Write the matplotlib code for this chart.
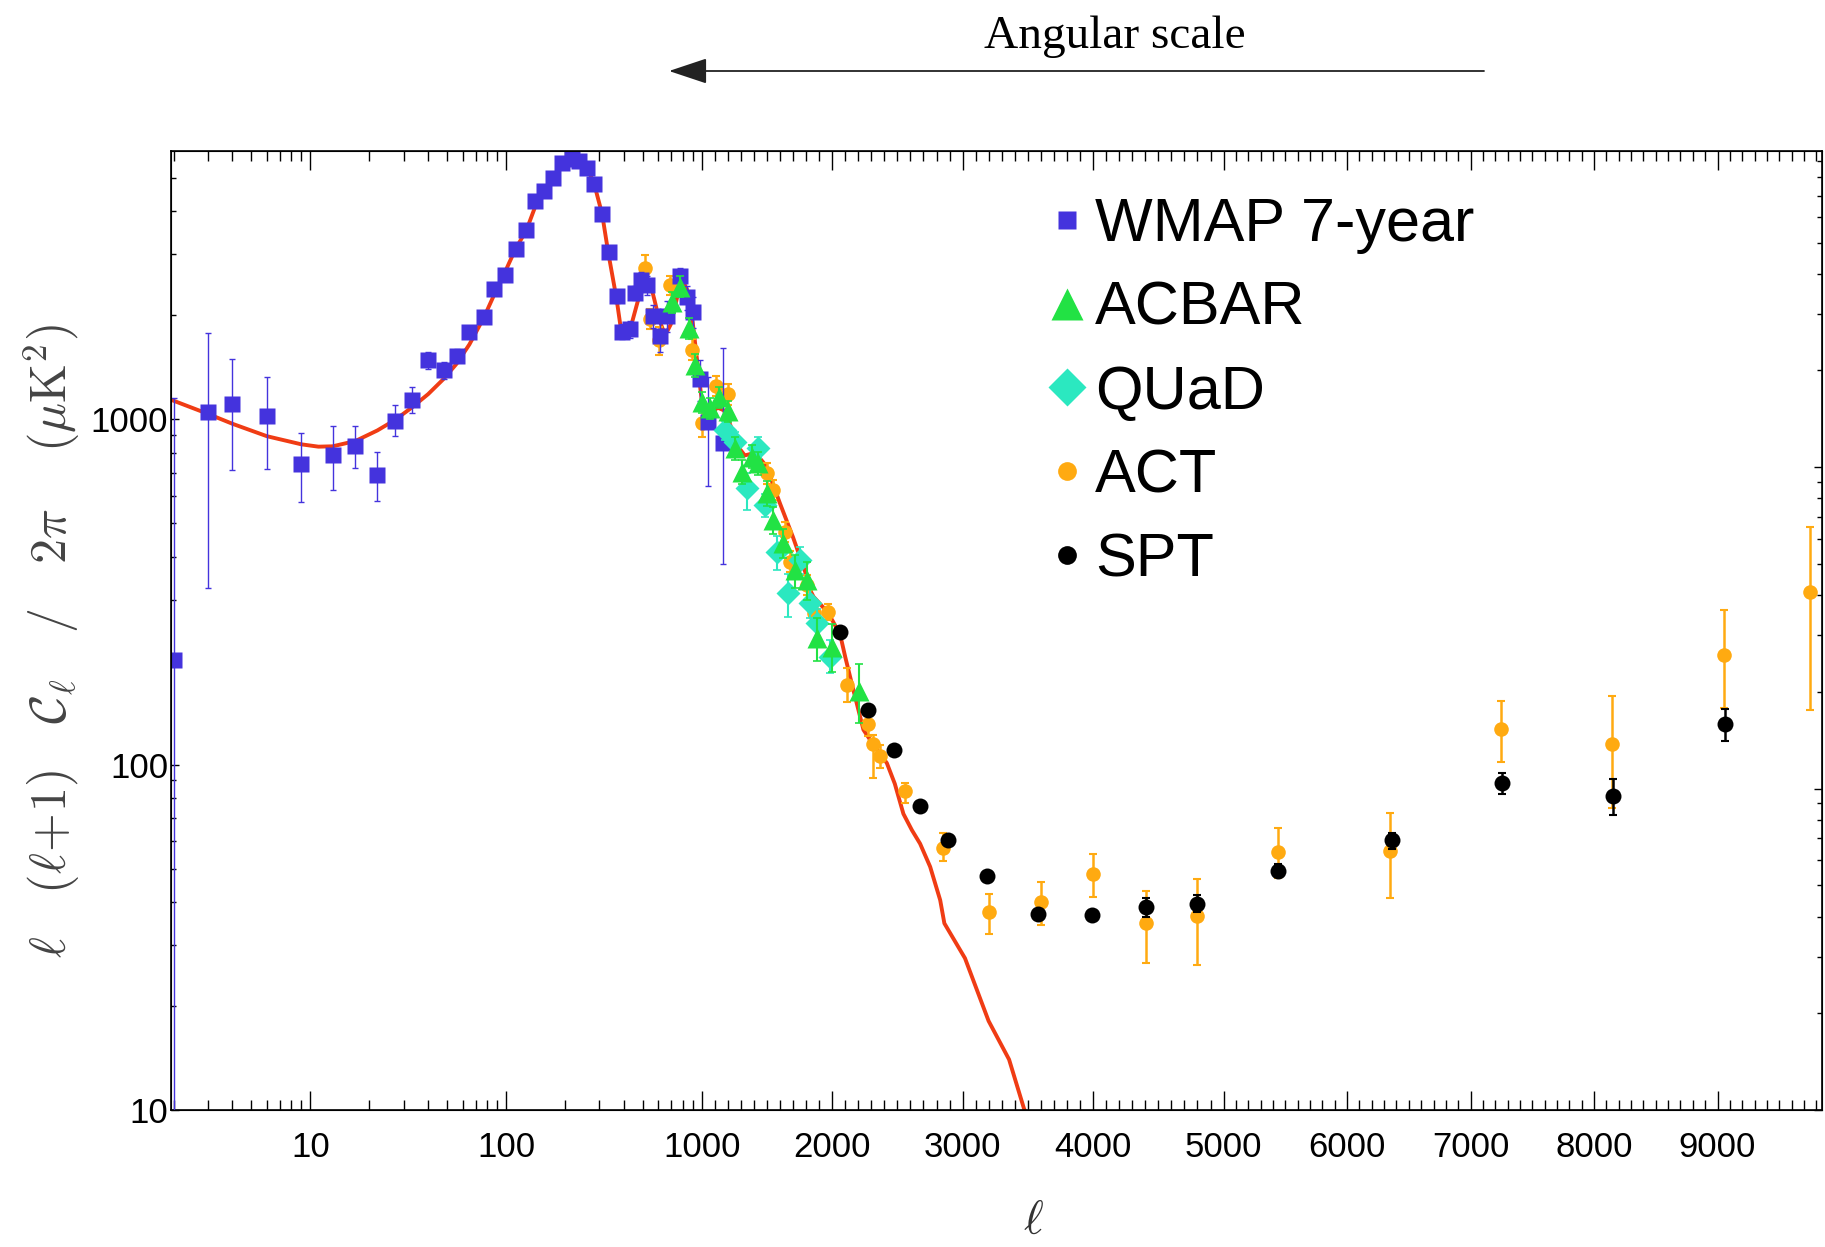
import numpy as np
import matplotlib
matplotlib.use('Agg')
import matplotlib.pyplot as plt
from matplotlib.lines import Line2D
from matplotlib.ticker import FixedLocator, FuncFormatter, LogLocator, NullFormatter

plt.rcParams['mathtext.fontset'] = 'cm'
plt.rcParams['font.family'] = ['Liberation Sans', 'DejaVu Sans']

################################################################
# data: multipole l and l(l+1)C_l/2pi in uK^2

## best-fit model curve
theory_ell = [2, 3, 4, 6, 9, 11, 13, 17, 22, 27, 33, 40, 48, 56, 65, 77, 87, 99, 112, 127,
              141, 156, 174, 193, 217, 237, 258, 282, 310, 333, 367, 385, 398, 415, 440, 470,
              500, 525, 548, 575, 605, 635, 665, 695, 725, 760, 790, 815, 840, 870, 900, 930,
              960, 985, 1000, 1030, 1070, 1120, 1170, 1220, 1270, 1330, 1390, 1440, 1490, 1525,
              1600, 1700, 1800, 1831, 1857, 1950, 2000, 2061, 2100, 2163, 2240, 2330, 2419, 2480,
              2546, 2611, 2674, 2751, 2828, 2860, 3018, 3199, 3356, 3470, 3530]
theory_dl = [1130, 1035, 969, 892, 845, 832, 834, 864, 927, 993, 1080, 1181, 1307, 1448, 1645, 1966,
             2291, 2671, 3114, 3517, 4121, 4565, 4990, 5383, 5700, 5680, 5383, 4800, 3917, 3032,
             2233, 1850, 1750, 1765, 1900, 2180, 2420, 2510, 2450, 2200, 1950, 1810, 1790, 1880,
             2080, 2330, 2450, 2460, 2380, 2170, 1900, 1620, 1390, 1220, 1140, 1050, 1030, 1080,
             1060, 960, 840, 785, 795, 775, 735, 681, 570, 455, 355, 320, 306, 280, 262, 238, 205,
             164, 126, 112, 101, 88, 72, 64.6, 59, 50.6, 40.5, 34.7, 27.5, 18.1, 14.0, 10.1, 9.0]

## WMAP 7-year
wmap_ell = [2, 3, 4, 6, 9, 13, 17, 22, 27, 33, 40, 48, 56, 65, 77, 87, 99, 112, 127, 141, 156, 174,
            193, 217, 237, 258, 282, 310, 334, 369, 391, 428, 457, 489, 528, 567, 614, 664, 776, 846,
            907, 975, 1052, 1160]
wmap_dl = [201, 1048, 1102, 1023, 740, 789, 837, 687, 986, 1132, 1478, 1384, 1525, 1790, 1977, 2383,
           2618, 3114, 3517, 4282, 4565, 4990, 5525, 5670, 5600, 5320, 4800, 3935, 3049, 2270, 1790,
           1820, 2321, 2525, 2443, 1987, 1738, 1987, 2592, 2250, 2046, 1303, 982, 850]
wmap_lo = [1, 324, 714, 719, 574, 625, 721, 581, 893, 1040, 1400, 1310, 1460, 1720, 1910, 2310, 2540,
           3030, 3430, 4190, 4470, 4890, 5420, 5560, 5490, 5210, 4690, 3830, 2950, 2170, 1700, 1720,
           2210, 2390, 2290, 1840, 1560, 1790, 2450, 2070, 1840, 1130, 640, 380]
wmap_hi = [1150, 1775, 1496, 1324, 914, 955, 955, 805, 1095, 1236, 1560, 1460, 1590, 1860, 2045, 2455,
           2700, 3200, 3600, 4370, 4660, 5090, 5630, 5780, 5710, 5430, 4910, 4040, 3150, 2370, 1880,
           1920, 2430, 2660, 2600, 2140, 1920, 2190, 2730, 2430, 2250, 1480, 1320, 1603]

## ACBAR
acbar_ell = [705, 776, 857, 926, 1000, 1065, 1135, 1200, 1257, 1308, 1385, 1435, 1500, 1550, 1627,
             1716, 1806, 1883, 1998, 2202]
acbar_dl = [2180, 2415, 1830, 1430, 1120, 1075, 1155, 1055, 822, 704, 778, 745, 610, 510, 437, 365,
            342, 232, 219, 163]
acbar_lo = [2030, 2250, 1700, 1320, 1040, 1000, 1075, 980, 760, 650, 720, 690, 560, 465, 395, 325,
            300, 200, 185, 132]
acbar_hi = [2340, 2590, 1960, 1540, 1200, 1150, 1240, 1130, 885, 760, 840, 805, 660, 555, 480, 405,
            385, 265, 255, 196]

## QUaD
quad_ell = [1180, 1257, 1346, 1430, 1487, 1576, 1665, 1755, 1831, 1883, 1985]
quad_dl = [929, 859, 630, 825, 563, 413, 313, 391, 293, 257, 205]
quad_lo = [870, 800, 546, 770, 520, 365, 268, 355, 265, 232, 184]
quad_hi = [990, 920, 700, 889, 605, 460, 355, 427, 322, 282, 230]

## ACT
act_ell = [514, 545, 605, 690, 891, 1000, 1110, 1200, 1500, 1550, 1640, 1678, 1806, 1857, 1968, 2113,
           2278, 2316, 2368, 2559, 2853, 3203, 3600, 4000, 4402, 4798, 5443, 6350, 7246, 8145, 9051, 9748]
act_dl = [2730, 1950, 1690, 2440, 1585, 975, 1248, 1180, 696, 623, 472, 387, 331, 274, 277, 170, 131,
          115, 106, 84, 57.5, 37.3, 40.1, 48.2, 34.8, 36.4, 56, 56.2, 127, 115, 208, 316]
act_lo = [2450, 1820, 1530, 2290, 1480, 889, 1170, 1100, 650, 585, 442, 362, 310, 256, 262, 152, 121,
          91.2, 98, 77.4, 52.4, 32.4, 34.3, 41.4, 26.7, 26.2, 47, 41.1, 102, 75, 146, 144]
act_hi = [2985, 2080, 1850, 2600, 1700, 1060, 1330, 1260, 745, 665, 505, 414, 354, 293, 292, 190, 142,
          122, 114, 88.6, 63.3, 42.2, 45.6, 55, 43.1, 46.7, 65.6, 72.4, 153, 158, 281, 488]

## SPT
spt_ell = [2061, 2278, 2475, 2674, 2891, 3190, 3580, 3992, 4402, 4793, 5443, 6363, 7252, 8152, 9057]
spt_dl = [242, 144, 110, 76, 60.4, 47.6, 36.9, 36.7, 38.6, 39.5, 49.3, 60.3, 88.5, 81.3, 131]
spt_lo = [236, 140, 107, 74, 58.8, 46.2, 35.8, 35.6, 36.2, 37.4, 47.2, 57.0, 82.4, 71.6, 117]
spt_hi = [248, 148, 113, 78, 62, 49, 38, 37.8, 41, 42, 51.5, 63.5, 94.7, 91, 145]

x_major = [10, 100, 1000, 2000, 3000, 4000, 5000, 6000, 7000, 8000, 9000]

################################################################
# hybrid axis: log up to l=1000, linear after (slightly different
# stretch below / above 5000, as in the original)

S1 = 0.6668e-3
S2 = 0.6311e-3
U5 = 3 + 4000 * S1


def fwd(l):
    l = np.asarray(l, dtype=float)
    lg = np.log10(np.where(l > 0, l, 1e-10))
    return np.where(l <= 1000, lg,
                    np.where(l <= 5000, 3 + (l - 1000) * S1, U5 + (l - 5000) * S2))


def inv(u):
    u = np.asarray(u, dtype=float)
    a = 10 ** np.minimum(u, 3)
    return np.where(u <= 3, a,
                    np.where(u <= U5, 1000 + (u - 3) / S1, 5000 + (u - U5) / S2))


def yerr(d, lo, hi):
    d = np.array(d)
    return [d - np.array(lo), np.array(hi) - d]


W, H = 1825, 1247
fig = plt.figure(figsize=(W / 100, H / 100), dpi=100)
ax = fig.add_axes([171 / W, 1 - 1110 / H, (1822 - 171) / W, (1110 - 151) / H])

ax.set_xscale('function', functions=(fwd, inv))
ax.set_yscale('log')

WMAP_C = '#4433DD'
ACBAR_C = '#22E244'
QUAD_C = '#2BE8C0'
ACT_C = '#FFAA11'
SPT_C = 'black'
RED = '#F03C14'

ax.plot(theory_ell, theory_dl, color=RED, lw=2.8, zorder=1.5, solid_joinstyle='round')

ax.errorbar(act_ell, act_dl, yerr=yerr(act_dl, act_lo, act_hi), fmt='o', color=ACT_C, ms=10.5,
            mec='none', elinewidth=1.8, capsize=3, capthick=1.5, zorder=2)
ax.errorbar(wmap_ell, wmap_dl, yerr=yerr(wmap_dl, wmap_lo, wmap_hi), fmt='s', color=WMAP_C, ms=11.5,
            mec='none', elinewidth=1.0, capsize=2.5, capthick=1.0, zorder=3)
ax.errorbar(quad_ell, quad_dl, yerr=yerr(quad_dl, quad_lo, quad_hi), fmt='D', color=QUAD_C, ms=12,
            mec='none', elinewidth=1.5, capsize=3, capthick=1.2, zorder=4)
ax.errorbar(acbar_ell, acbar_dl, yerr=yerr(acbar_dl, acbar_lo, acbar_hi), fmt='^', color=ACBAR_C,
            ms=14, mec='none', elinewidth=1.5, capsize=3, capthick=1.2, zorder=5)
ax.errorbar(spt_ell, spt_dl, yerr=yerr(spt_dl, spt_lo, spt_hi), fmt='o', color=SPT_C, ms=11.5,
            mec='none', elinewidth=1.8, capsize=3, capthick=1.5, zorder=6)

ax.set_xlim(1.94, 9846)
ax.set_ylim(10, 5970)

## ticks
x_minor = [m * 10 ** k for k in range(3) for m in range(2, 10) if m * 10 ** k >= 2]
x_minor += [l for l in range(1100, 10000, 100) if l % 1000]
ax.xaxis.set_major_locator(FixedLocator(x_major))
ax.xaxis.set_minor_locator(FixedLocator(x_minor))
ax.xaxis.set_major_formatter(FuncFormatter(lambda v, p: '%d' % round(v)))
ax.xaxis.set_minor_formatter(NullFormatter())
ax.yaxis.set_major_locator(LogLocator(base=10))
ax.yaxis.set_minor_locator(LogLocator(base=10, subs=np.arange(2, 10)))
ax.yaxis.set_major_formatter(FuncFormatter(lambda v, p: '%d' % round(v)))
ax.yaxis.set_minor_formatter(NullFormatter())

ax.tick_params(axis='x', which='both', direction='in', top=True, bottom=True, width=1.0,
               labelsize=25, pad=15)
ax.tick_params(axis='x', which='major', length=14)
ax.tick_params(axis='x', which='minor', length=7.5)
ax.tick_params(axis='y', which='both', direction='in', left=True, right=False, width=1.0,
               labelsize=25, pad=2)
ax.tick_params(axis='y', which='major', length=6)
ax.tick_params(axis='y', which='minor', length=3.5)
for s in ax.spines.values():
    s.set_linewidth(1.2)

# right-hand axis: ticks only, its own log stretch
twin = ax.twinx()
twin.set_yscale('log')
twin.set_ylim(1, 10 ** 2.984)
twin.yaxis.set_major_locator(LogLocator(base=10))
twin.yaxis.set_minor_locator(LogLocator(base=10, subs=np.arange(2, 10)))
twin.tick_params(axis='y', which='both', direction='in', labelright=False, width=1.0)
twin.tick_params(axis='y', which='major', length=6)
twin.tick_params(axis='y', which='minor', length=3.5)

## legend
handles = [
    Line2D([], [], ls='none', marker='s', color=WMAP_C, mec='none', ms=13.5),
    Line2D([], [], ls='none', marker='^', color=ACBAR_C, mec='none', ms=23),
    Line2D([], [], ls='none', marker='D', color=QUAD_C, mec='none', ms=19),
    Line2D([], [], ls='none', marker='o', color=ACT_C, mec='none', ms=13.5),
    Line2D([], [], ls='none', marker='o', color=SPT_C, mec='none', ms=13.5),
]
labels = ['WMAP 7-year', 'ACBAR', 'QUaD', 'ACT', 'SPT']
ax.legend(handles, labels, loc='upper left', bbox_to_anchor=(1049 / W, 1 - 197 / H),
          bbox_transform=fig.transFigure, frameon=False, fontsize=44, handlelength=0.6,
          handletextpad=0.15, labelspacing=0.44, borderpad=0, borderaxespad=0, numpoints=1)

## labels and the angular-scale arrow
fig.text(52 / W, 1 - 641 / H,
         r'$\ell\ \ \ (\ell\!+\!1)\ \ \ \mathcal{C}_\ell\ \ \ /\ \ \ 2\pi\ \ \ \ (\mu\mathrm{K}^2)$',
         rotation=90, fontsize=36, color='#444444', ha='center', va='center')
fig.text(1033.5 / W, 1 - 1222 / H, r'$\ell$', fontsize=34, color='#333333', ha='center', va='center')
fig.text(1115 / W, 1 - 36.5 / H, 'Angular scale', family='Liberation Serif', fontsize=34,
         ha='center', va='center')
ax.annotate('', xy=(669 / W, 1 - 71 / H), xytext=(1484 / W, 1 - 71 / H), xycoords='figure fraction',
            arrowprops=dict(arrowstyle='-|>,head_length=1.2,head_width=0.4', mutation_scale=20,
                            lw=1.3, color='#222222', shrinkA=0, shrinkB=0))

plt.savefig('out.png', dpi=100)
